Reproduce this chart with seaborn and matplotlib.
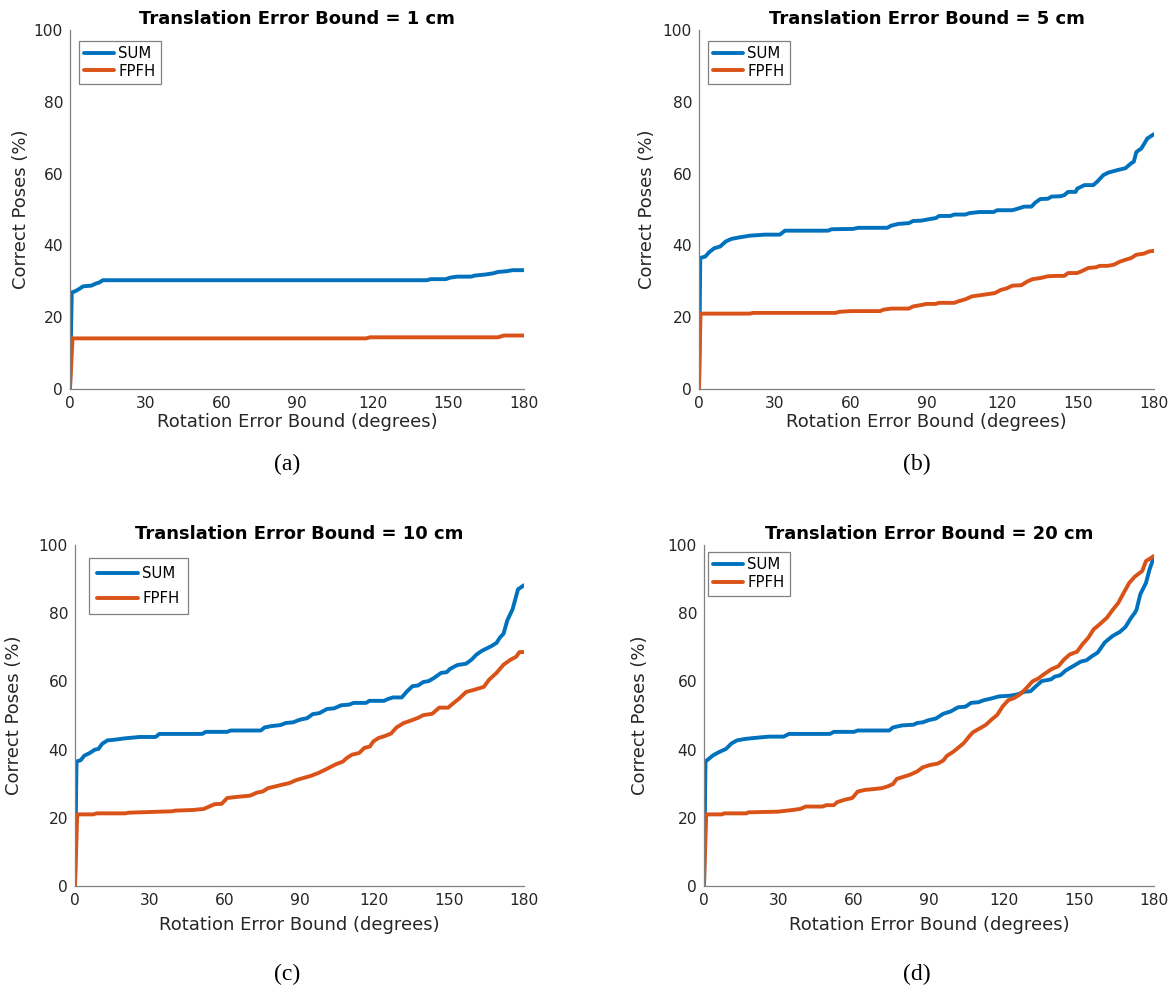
import matplotlib
matplotlib.use("Agg")

import numpy as np
import pandas as pd
import matplotlib.pyplot as plt
import seaborn as sns


# -----------------------
# Data
# -----------------------

METHODS = ["SUM", "FPFH"]

TITLES = [
    "Translation Error Bound = 1 cm",
    "Translation Error Bound = 5 cm",
    "Translation Error Bound = 10 cm",
    "Translation Error Bound = 20 cm",
]

CAPTIONS = ["(a)", "(b)", "(c)", "(d)"]

X_TICKS = [0, 30, 60, 90, 120, 150, 180]
Y_TICKS = [0, 20, 40, 60, 80, 100]

# 1 cm
sum_1cm_rot = [0, 0.7, 2, 3.5, 5.2, 8.5, 10, 11.7, 13, 141.5, 143, 149, 150.6,
               153.5, 159, 160.5, 164.8, 167.6, 169.7, 173, 175.5, 180]
sum_1cm_pct = [0, 26.9, 27.2, 27.8, 28.6, 28.8, 29.3, 29.7, 30.3, 30.3, 30.6, 30.6,
               31.0, 31.3, 31.3, 31.6, 31.9, 32.2, 32.6, 32.8, 33.1, 33.1]

fpfh_1cm_rot = [0, 1, 117.4, 119, 169.7, 172, 180]
fpfh_1cm_pct = [0, 14.1, 14.1, 14.4, 14.4, 14.9, 14.9]

# 5 cm
sum_5cm_rot = [0, 0.5, 2.5, 4, 6, 8.4, 10.6, 12.8, 15.7, 20, 26, 32, 34, 51, 52.5,
               61, 63, 74.5, 76, 79, 83, 84.7, 88, 91, 93.6, 95, 99.4, 101, 105.4,
               107, 111, 116.5, 118, 124, 126.4, 128.6, 131.5, 133, 135, 138,
               139.5, 143, 144.5, 146, 149, 149.6, 152.5, 156, 157.6, 160, 162,
               165.7, 168.7, 171, 172, 173, 175, 177.4, 180]
sum_5cm_pct = [0, 36.5, 36.9, 38.1, 39.2, 39.7, 41.1, 41.8, 42.2, 42.7, 43.0, 43.0,
               44.1, 44.1, 44.5, 44.6, 44.9, 44.9, 45.5, 46.0, 46.2, 46.8, 46.9,
               47.3, 47.6, 48.2, 48.2, 48.6, 48.6, 49.0, 49.3, 49.3, 49.8, 49.8,
               50.3, 50.8, 50.8, 51.9, 52.9, 53.0, 53.6, 53.7, 54.0, 54.9, 54.9,
               55.8, 56.8, 56.8, 57.8, 59.6, 60.3, 61.0, 61.5, 62.9, 63.3, 66.0,
               67.0, 69.8, 71.0]

fpfh_5cm_rot = [0, 0.6, 20, 21.5, 54, 55.5, 60, 71.6, 73, 76, 83, 84.7, 88, 90,
                93.6, 95, 101, 102.5, 105.4, 108, 112, 115, 117, 119.4, 121.6, 124,
                127.5, 130, 132, 135, 138, 141, 144.5, 146, 149.6, 151, 154, 157,
                158.5, 161.6, 164, 166.6, 168.7, 171, 173, 176, 178, 180]
fpfh_5cm_pct = [0, 21.0, 21.0, 21.2, 21.2, 21.5, 21.7, 21.7, 22.1, 22.4, 22.4, 23.0,
                23.4, 23.7, 23.7, 24.0, 24.0, 24.4, 25.0, 25.8, 26.2, 26.5, 26.7,
                27.6, 28.0, 28.8, 28.9, 30.0, 30.6, 30.9, 31.4, 31.5, 31.5, 32.3,
                32.3, 32.7, 33.7, 33.9, 34.3, 34.3, 34.6, 35.5, 36.0, 36.5, 37.4,
                37.7, 38.3, 38.5]

# 10 cm
sum_10cm_rot = [0, 0.6, 2.3, 3.7, 5.9, 8, 9.4, 10.9, 13, 15.9, 20, 25.9, 32.3, 33.8,
                51, 52.4, 61, 62.4, 74.5, 76, 78.8, 82.4, 84.5, 87.4, 90.3, 93,
                95.3, 98, 101, 103.9, 106.7, 110, 111.7, 116.7, 118, 123.9, 125.3,
                127.5, 131, 133, 135.3, 137.5, 139.6, 141.8, 143.9, 146.8, 149,
                150.4, 153.3, 156.8, 159, 161, 163.2, 166.8, 169, 170.4, 171.8,
                173.3, 175.4, 177.6, 180]
sum_10cm_pct = [0, 36.5, 36.9, 38.2, 39.0, 40.0, 40.2, 41.7, 42.7, 42.9, 43.3, 43.7,
                43.7, 44.6, 44.6, 45.2, 45.2, 45.6, 45.6, 46.5, 46.9, 47.2, 47.8,
                48.0, 48.8, 49.2, 50.4, 50.7, 51.9, 52.1, 53.0, 53.2, 53.7, 53.7,
                54.3, 54.3, 54.8, 55.3, 55.3, 57.0, 58.6, 58.8, 59.8, 60.1, 61.0,
                62.5, 62.7, 63.7, 64.8, 65.2, 66.4, 67.9, 69.0, 70.3, 71.3, 72.9,
                74.0, 77.9, 81.1, 87.0, 88.2]

fpfh_10cm_rot = [0, 0.9, 7.3, 8.7, 20, 21.6, 30, 38.8, 40.2, 47.4, 51.6, 56, 58.8,
                 61, 64.5, 70.2, 73, 75.2, 77.4, 80.3, 83, 86, 88.8, 91.7, 94.6,
                 97.4, 100.3, 102.4, 104.6, 107.4, 108.9, 111, 113.9, 116, 118.2,
                 119.6, 121.7, 123.9, 126.7, 128.9, 131.8, 134.6, 137.5, 139.6,
                 143.2, 146, 149.6, 151, 153.9, 156.8, 160.3, 163.9, 166, 169,
                 171.8, 174.7, 176.8, 178.2, 180]
fpfh_10cm_pct = [0, 21.0, 21.0, 21.3, 21.3, 21.5, 21.7, 21.9, 22.1, 22.3, 22.6,
                 24.0, 24.1, 25.8, 26.1, 26.5, 27.4, 27.7, 28.7, 29.2, 29.7, 30.2,
                 31.1, 31.7, 32.3, 33.1, 34.1, 34.9, 35.7, 36.5, 37.5, 38.5, 39.0,
                 40.5, 40.9, 42.4, 43.4, 43.9, 44.7, 46.5, 47.8, 48.5, 49.3, 50.1,
                 50.5, 52.3, 52.3, 53.2, 54.9, 56.9, 57.6, 58.4, 60.5, 62.5, 64.9,
                 66.4, 67.2, 68.6, 68.6]

# 20 cm
sum_20cm_rot = [0, 0.6, 3.6, 5.8, 8.8, 11, 13.2, 16.2, 19.9, 25.9, 31.8, 34, 50.4,
                51.9, 60, 61.5, 74.1, 75.6, 79.3, 83.8, 85.3, 87.5, 89.7, 92.7,
                95.7, 98.7, 101.6, 104.6, 106.8, 109.8, 112, 115, 118, 122.4, 125.4,
                128.4, 130.6, 132.8, 135.1, 138.8, 140.3, 142.5, 144.7, 147.7,
                150.7, 153, 155.2, 157.4, 160.4, 163.4, 166.3, 168.5, 170.8, 172.3,
                173, 174.5, 176.8, 178.2, 180]
sum_20cm_pct = [0, 36.5, 38.3, 39.2, 40.2, 41.8, 42.7, 43.1, 43.4, 43.8, 43.8, 44.6,
                44.6, 45.2, 45.2, 45.6, 45.6, 46.5, 47.1, 47.3, 47.8, 48.0, 48.6,
                49.1, 50.5, 51.2, 52.4, 52.6, 53.7, 53.9, 54.5, 55.0, 55.6, 55.8,
                56.2, 57.0, 57.1, 58.6, 60.1, 60.6, 61.4, 61.8, 63.2, 64.5, 65.8,
                66.2, 67.4, 68.4, 71.5, 73.3, 74.5, 75.9, 78.6, 80.1, 81.0, 85.5,
                88.9, 92.8, 96.6]

fpfh_20cm_rot = [0, 0.9, 7.3, 8, 17, 17.7, 29.6, 35.5, 38.5, 40.7, 47.4, 48.9, 51.9,
                 53.3, 56.3, 59.3, 61.5, 64.5, 67.5, 71.2, 73.4, 75.6, 77.1, 80.1,
                 82.3, 85.3, 87.5, 90.5, 93.5, 95.7, 97.2, 99.4, 101.6, 103.9,
                 106.1, 107.6, 110.5, 112.8, 115, 117.3, 119.5, 121.7, 124, 126.2,
                 128.4, 131.4, 133.6, 135.8, 138.8, 141.8, 144, 146.3, 149.2, 151.4,
                 153.7, 155.9, 158.2, 161.2, 163.4, 165.7, 167.9, 170.1, 172.3,
                 175.3, 176.8, 179, 180]
fpfh_20cm_pct = [0, 21.0, 21.0, 21.3, 21.3, 21.6, 21.8, 22.3, 22.6, 23.3, 23.3,
                 23.7, 23.7, 24.6, 25.3, 25.8, 27.7, 28.2, 28.4, 28.7, 29.2, 29.9,
                 31.4, 32.1, 32.6, 33.6, 34.8, 35.5, 35.9, 36.8, 38.2, 39.2, 40.5,
                 41.9, 43.9, 45.1, 46.3, 47.3, 48.8, 50.2, 52.7, 54.5, 55.1, 56.1,
                 57.6, 60.0, 60.8, 62.0, 63.5, 64.5, 66.4, 67.9, 68.7, 70.9, 72.8,
                 75.3, 76.7, 78.7, 80.9, 83.0, 86.0, 88.9, 90.7, 92.4, 95.3, 96.3,
                 96.8]


# -----------------------
# Layout (pixels of a 1172 x 989 figure)
# -----------------------

W, H = 1172, 989

PALETTE = {"SUM": "#0072BD", "FPFH": "#D95319"}

# left, top, right, bottom of each axes box
AXES_BOX = [
    (70, 30, 524, 389),
    (699, 30, 1154, 389),
    (75, 545, 524, 886),
    (704, 545, 1154, 886),
]

CAPTION_XY = [(287, 464), (917, 464), (287, 974), (917, 974)]

YLABEL_PAD = [3, 5, 11.5, 13.5]
XLABEL_PAD = [1.5, 1.5, 6, 6]

LEGEND_STYLE = [
    dict(anchor=(0.02, 0.969), handlelength=2.0, labelspacing=0.15, borderpad=0.35),
    dict(anchor=(0.02, 0.969), handlelength=2.0, labelspacing=0.15, borderpad=0.35),
    dict(anchor=(0.031, 0.962), handlelength=2.75, labelspacing=0.65, borderpad=0.55),
    dict(anchor=(0.009, 0.979), handlelength=2.0, labelspacing=0.2, borderpad=0.35),
]

GRAY = "#808080"
TEXT = "#262626"


def panel_frame(sum_rot, sum_pct, fpfh_rot, fpfh_pct):

    a = pd.DataFrame({"rot": sum_rot, "pct": sum_pct, "method": "SUM"})

    b = pd.DataFrame({"rot": fpfh_rot, "pct": fpfh_pct, "method": "FPFH"})

    return pd.concat([a, b], ignore_index=True)


def draw_panel(fig, i, df):

    l, t, r, b = AXES_BOX[i]

    ax = fig.add_axes([l / W, 1 - b / H, (r - l) / W, (b - t) / H])

    sns.lineplot(
        data=df,
        x="rot",
        y="pct",
        hue="method",
        hue_order=METHODS,
        palette=PALETTE,
        linewidth=2.8,
        estimator=None,
        sort=False,
        legend=False,
        ax=ax,
    )

    ax.set_xlim(0, 180)
    ax.set_ylim(0, 100)

    ax.set_xticks(X_TICKS)
    ax.set_yticks(Y_TICKS)

    sns.despine(ax=ax)

    for side in ["left", "bottom"]:
        ax.spines[side].set_color(GRAY)
        ax.spines[side].set_linewidth(0.9)

    ax.tick_params(
        direction="in",
        length=4,
        width=0.8,
        color=GRAY,
        labelcolor=TEXT,
        labelsize=11.2,
    )
    ax.tick_params(axis="x", pad=5)
    ax.tick_params(axis="y", pad=5)

    ax.set_title(TITLES[i], fontsize=13, fontweight="bold", pad=4.5, color="black")

    ax.set_xlabel(
        "Rotation Error Bound (degrees)",
        fontsize=13,
        color=TEXT,
        labelpad=XLABEL_PAD[i],
    )
    ax.set_ylabel(
        "Correct Poses (%)",
        fontsize=13,
        color=TEXT,
        labelpad=YLABEL_PAD[i],
    )

    st = LEGEND_STYLE[i]

    leg = ax.legend(
        ax.lines[:2],
        METHODS,
        loc="upper left",
        bbox_to_anchor=st["anchor"],
        borderaxespad=0,
        fancybox=False,
        framealpha=1,
        edgecolor=GRAY,
        fontsize=10.7,
        handlelength=st["handlelength"],
        handletextpad=0.3,
        labelspacing=st["labelspacing"],
        borderpad=st["borderpad"],
    )
    leg.get_frame().set_linewidth(0.9)

    for txt in leg.get_texts():
        txt.set_color("black")

    cx, cy = CAPTION_XY[i]

    fig.text(
        cx / W,
        1 - cy / H,
        CAPTIONS[i],
        family=["Liberation Serif", "DejaVu Serif"],
        fontsize=17,
        ha="center",
        va="center",
        color="black",
    )

    return ax


def main():

    sns.set_theme(style="white")

    plt.rcParams["font.family"] = ["DejaVu Sans"]

    frames = [
        panel_frame(sum_1cm_rot, sum_1cm_pct, fpfh_1cm_rot, fpfh_1cm_pct),
        panel_frame(sum_5cm_rot, sum_5cm_pct, fpfh_5cm_rot, fpfh_5cm_pct),
        panel_frame(sum_10cm_rot, sum_10cm_pct, fpfh_10cm_rot, fpfh_10cm_pct),
        panel_frame(sum_20cm_rot, sum_20cm_pct, fpfh_20cm_rot, fpfh_20cm_pct),
    ]

    fig = plt.figure(figsize=(W / 100, H / 100), dpi=100)

    for i, df in enumerate(frames):
        draw_panel(fig, i, df)

    fig.savefig("out.png", dpi=100, facecolor="white")

    plt.close(fig)


if __name__ == "__main__":
    main()
